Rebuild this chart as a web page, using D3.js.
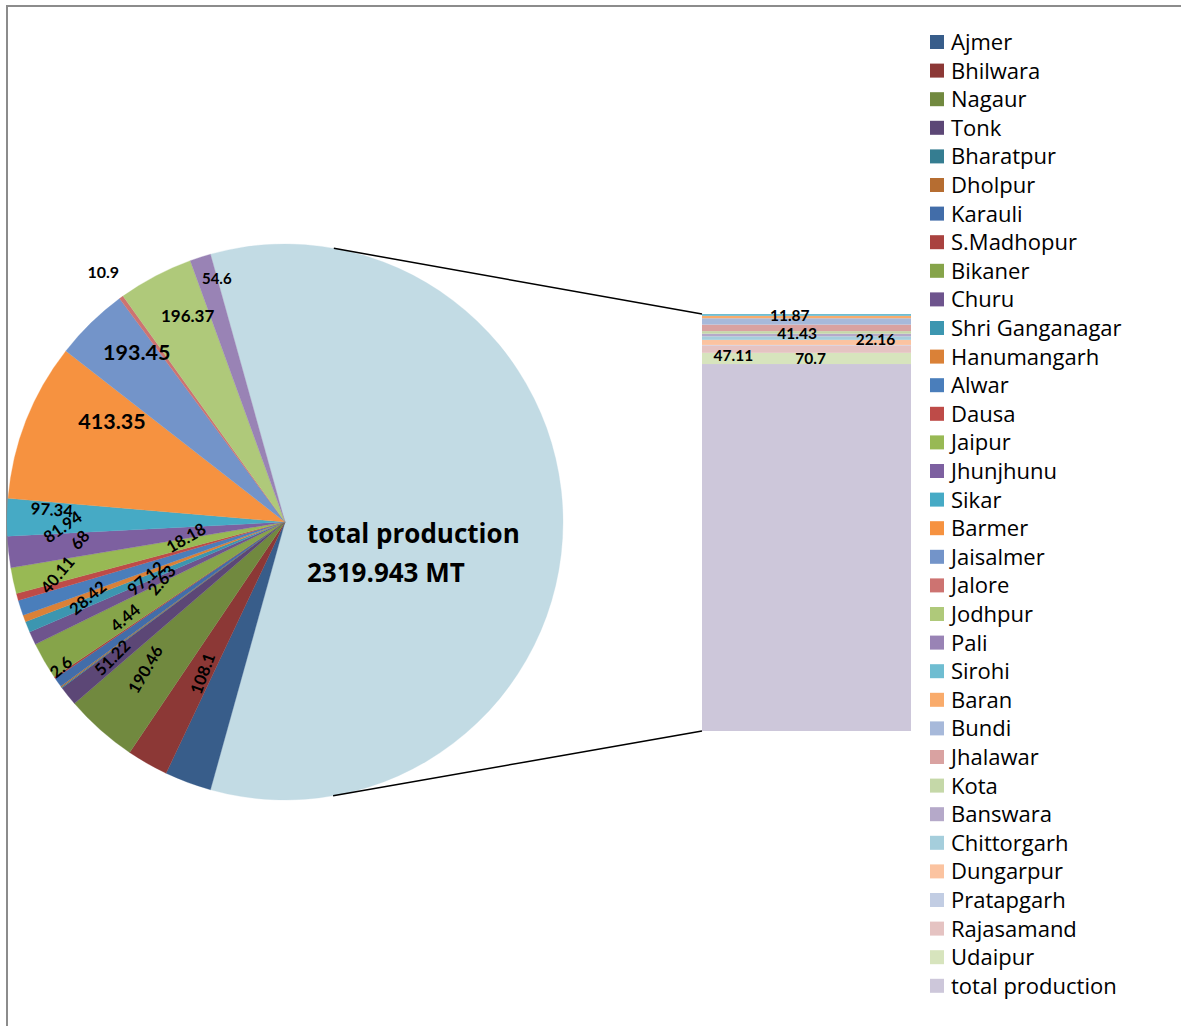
<!DOCTYPE html>
<html>
<head>
<meta charset="utf-8">
<script src="https://cdn.jsdelivr.net/npm/d3@7"></script>
<style>
  body { margin: 0; background: #fff; }
  text { font-family: Lato, "Open Sans", sans-serif; }
</style>
</head>
<body>
<div id="chart"></div>
<script>
// districts drawn as pie slices
var pieNames = ["Ajmer", "Bhilwara", "Nagaur", "Tonk", "Bharatpur", "Dholpur", "Karauli", "S.Madhopur",
  "Bikaner", "Churu", "Shri Ganganagar", "Hanumangarh", "Alwar", "Dausa", "Jaipur", "Jhunjhunu", "Sikar",
  "Barmer", "Jaisalmer", "Jalore", "Jodhpur", "Pali"];
var pieValues = [122, 108.1, 190.46, 51.22, 2.6, 2.63, 25, 4.44,
  97.12, 35, 28.42, 18, 40.11, 18.18, 68, 81.94, 97.34,
  413.35, 193.45, 10.9, 196.37, 54.6];

// districts grouped in the bar (the "other" slice)
var barNames = ["Sirohi", "Baran", "Bundi", "Jhalawar", "Kota", "Banswara", "Chittorgarh", "Dungarpur",
  "Pratapgarh", "Rajasamand", "Udaipur", "total production"];
var barValues = [11.87, 15, 40, 41.43, 16, 17, 22.16, 32, 3, 47.11, 70.7, 2319.943];

// which values carry a visible label
var pieLabelled = ["Bhilwara", "Nagaur", "Tonk", "Bharatpur", "Dholpur", "S.Madhopur", "Bikaner",
  "Shri Ganganagar", "Alwar", "Dausa", "Jaipur", "Jhunjhunu", "Sikar", "Barmer", "Jaisalmer",
  "Jalore", "Jodhpur", "Pali"];
var barLabelled = ["Sirohi", "Jhalawar", "Chittorgarh", "Rajasamand", "Udaipur"];
var unit = "MT";

// colours
var pieColors = ["#385D8A", "#8C3836", "#71893F", "#5C4776", "#357D91", "#B66D31", "#426DA9", "#A9423F",
  "#86A44A", "#6E548D", "#3C96B0", "#DA8137", "#4A7EBB", "#BE4B48", "#98B954", "#7D60A0", "#46AAC5",
  "#F69240", "#7394C9", "#CD7371", "#AFC97A", "#9983B5"];
var barColors = ["#6FBDD1", "#F9AB6B", "#A7B9DA", "#D9A2A1", "#C5D8A8", "#B5A9C9", "#A5CEDC", "#FBC3A0",
  "#C2CDE3", "#E5C3C2", "#D7E4BD", "#CDC7DA"];
var otherColor = "#C2DBE4";

// label placement: [angle shift deg, radius fraction, rotation deg, font size]
var pieLabelPlace = {
  "Bhilwara": [-1.2, 0.62, -70, 16.5],
  "Nagaur": [1.8, 0.73, -60, 16.5],
  "Tonk": [0.5, 0.79, -45, 16.5],
  "Bharatpur": [3.6, 0.96, -40, 16.5],
  "Dholpur": [11, 0.49, -50, 16.5],
  "S.Madhopur": [3.1, 0.67, -40, 16.5],
  "Bikaner": [7.9, 0.54, -40, 16.5],
  "Shri Ganganagar": [1.1, 0.76, -40, 16.5],
  "Alwar": [4.9, 0.84, -50, 16.5],
  "Dausa": [6.5, 0.36, -30, 16.5],
  "Jaipur": [7.2, 0.74, -50, 16.5],
  "Jhunjhunu": [4.9, 0.80, -35, 16.5],
  "Sikar": [2.0, 0.84, 4, 16.5],
  "Barmer": [8.8, 0.72, 0, 21.5],
  "Jaisalmer": [3.1, 0.81, 0, 21.5],
  "Jalore": [0, 1.11, 0, 16],
  "Jodhpur": [2.5, 0.82, 0, 17],
  "Pali": [2.1, 0.91, 0, 15]
};
// bar label placement: [x fraction in bar, y shift]
var barLabelPlace = {
  "Sirohi": [0.42, 1],
  "Jhalawar": [0.455, 6],
  "Chittorgarh": [0.83, 1.5],
  "Rajasamand": [0.15, 6],
  "Udaipur": [0.52, 0.5]
};

var svgWidth = 1181;
var svgHeight = 1026;
var cx = 285, cy = 522, radius = 278;
var bar = { x: 702, width: 209, top: 314, bottom: 731 };

var svg = d3.select("#chart")
  .append("svg")
  .attr("width", svgWidth)
  .attr("height", svgHeight);

// chart frame (only top/left edges are inside the picture)
svg.append("rect")
  .attr("x", 7).attr("y", 6)
  .attr("width", svgWidth).attr("height", svgHeight)
  .attr("fill", "none")
  .attr("stroke", "#8c8c8c")
  .attr("stroke-width", 2);

var otherTotal = d3.sum(barValues);
var pieData = [{ name: "other", value: otherTotal, color: otherColor }]
  .concat(pieNames.map(function(n, i) { return { name: n, value: pieValues[i], color: pieColors[i] }; }));
var grandTotal = d3.sum(pieData, d => d.value);
var otherAngle = otherTotal / grandTotal * 2 * Math.PI;
var start = Math.PI / 2 - otherAngle / 2;

var pie = d3.pie()
  .sort(null)
  .value(d => d.value)
  .startAngle(start)
  .endAngle(start + 2 * Math.PI);

var arc = d3.arc().innerRadius(0).outerRadius(radius);
var arcs = pie(pieData);

var pieGroup = svg.append("g")
  .attr("transform", `translate(${cx}, ${cy})`);

pieGroup.selectAll("path")
  .data(arcs)
  .enter()
  .append("path")
  .attr("d", arc)
  .attr("fill", d => d.data.color)
  .attr("stroke", d => d.data.color)
  .attr("stroke-width", 0.3);

// slice labels
pieGroup.selectAll(".slice-label")
  .data(arcs.filter(d => pieLabelled.indexOf(d.data.name) >= 0))
  .enter()
  .append("text")
  .attr("class", "slice-label")
  .attr("transform", function(d) {
    var p = pieLabelPlace[d.data.name];
    var a = (d.startAngle + d.endAngle) / 2 + p[0] * Math.PI / 180;
    var x = Math.sin(a) * radius * p[1];
    var y = -Math.cos(a) * radius * p[1];
    return `translate(${x}, ${y}) rotate(${p[2]})`;
  })
  .attr("text-anchor", "middle")
  .attr("dy", "0.35em")
  .style("font-size", d => pieLabelPlace[d.data.name][3] + "px")
  .style("font-weight", "bold")
  .style("fill", "#000")
  .text(d => d.data.value);

// label of the big slice
var totalIdx = barNames.indexOf("total production");
var bigLabel = pieGroup.append("text")
  .style("font-family", "'Open Sans', sans-serif")
  .style("font-size", "26px")
  .style("font-weight", "bold")
  .style("fill", "#000");
bigLabel.append("tspan").attr("x", 22).attr("y", 21).text(barNames[totalIdx]);
bigLabel.append("tspan").attr("x", 22).attr("y", 60).text(barValues[totalIdx] + " " + unit);

// bar of the "other" slice, stacked from the bottom
var yBar = d3.scaleLinear()
  .domain([0, otherTotal])
  .range([bar.bottom, bar.top]);

var stackOrder = barNames.map((n, i) => i).reverse();
var cum = 0;
var segs = stackOrder.map(function(i) {
  var s = { name: barNames[i], value: barValues[i], color: barColors[i], y0: cum, y1: cum + barValues[i] };
  cum += barValues[i];
  return s;
});

svg.append("g").selectAll("rect")
  .data(segs)
  .enter()
  .append("rect")
  .attr("x", bar.x)
  .attr("width", bar.width)
  .attr("y", d => yBar(d.y1))
  .attr("height", d => yBar(d.y0) - yBar(d.y1))
  .attr("fill", d => d.color);

svg.append("g").selectAll("text")
  .data(segs.filter(d => barLabelled.indexOf(d.name) >= 0))
  .enter()
  .append("text")
  .attr("x", d => bar.x + bar.width * barLabelPlace[d.name][0])
  .attr("y", d => (yBar(d.y0) + yBar(d.y1)) / 2 + barLabelPlace[d.name][1])
  .attr("dy", "0.35em")
  .attr("text-anchor", "middle")
  .style("font-size", "15.5px")
  .style("font-weight", "bold")
  .text(d => d.value);

// connector lines: tangents from the bar corners to the pie
function tangent(px, py, side) {
  var dx = px - cx, dy = py - cy;
  var d = Math.sqrt(dx * dx + dy * dy);
  var theta = Math.atan2(dx, -dy) + side * Math.acos(radius / d);
  return [cx + radius * Math.sin(theta), cy - radius * Math.cos(theta)];
}
var tTop = tangent(bar.x, bar.top, -1);
var tBot = tangent(bar.x, bar.bottom, 1);
svg.append("line")
  .attr("x1", tTop[0]).attr("y1", tTop[1])
  .attr("x2", bar.x).attr("y2", bar.top)
  .attr("stroke", "#000").attr("stroke-width", 1.5);
svg.append("line")
  .attr("x1", tBot[0]).attr("y1", tBot[1])
  .attr("x2", bar.x).attr("y2", bar.bottom)
  .attr("stroke", "#000").attr("stroke-width", 1.5);

// legend
var legendNames = pieNames.concat(barNames);
var legendColors = pieColors.concat(barColors);
var legend = svg.append("g")
  .attr("transform", "translate(930, 42)");

var rows = legend.selectAll("g")
  .data(legendNames)
  .enter()
  .append("g")
  .attr("transform", (d, i) => `translate(0, ${i * 28.6})`);

rows.append("rect")
  .attr("x", 0).attr("y", -7)
  .attr("width", 14).attr("height", 14)
  .attr("fill", (d, i) => legendColors[i]);

rows.append("text")
  .attr("x", 21)
  .attr("dy", "0.36em")
  .style("font-family", "'Open Sans', sans-serif")
  .style("font-size", "22px")
  .style("fill", "#000")
  .text(d => d);
</script>
</body>
</html>
